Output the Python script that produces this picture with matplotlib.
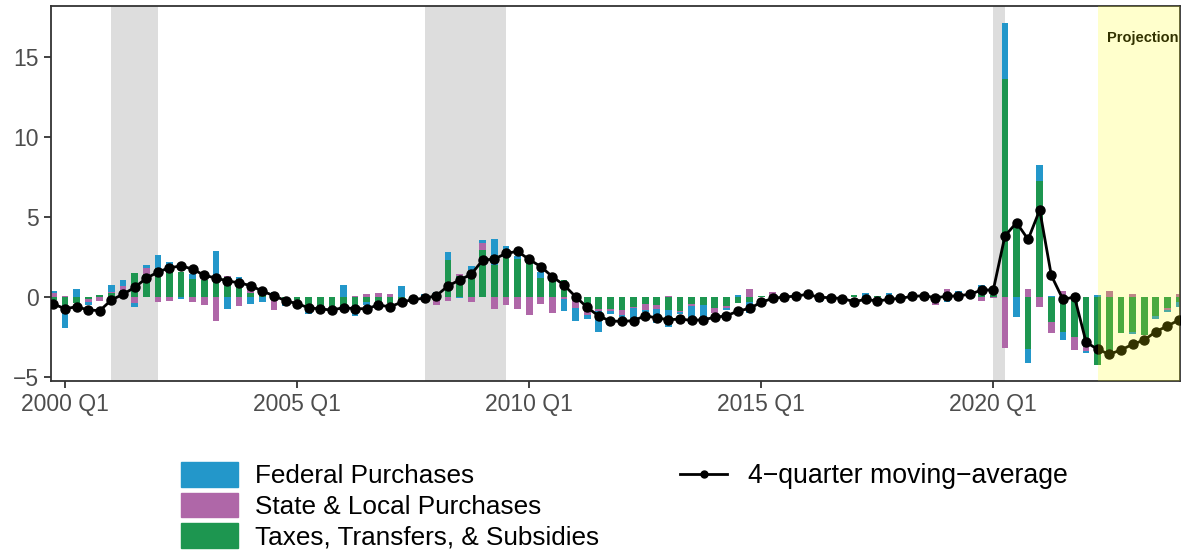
import numpy as np
import matplotlib
matplotlib.use("Agg")
import matplotlib.pyplot as plt
from matplotlib.patches import Patch
from matplotlib.lines import Line2D

plt.rcParams['font.family'] = ['Liberation Sans', 'DejaVu Sans']

# quarter labels, 1999 Q4 .. 2024 Q1
quarters = ["1999 Q4"] + [f"{y} Q{q}" for y in range(2000, 2024) for q in range(1, 5)] + ["2024 Q1"]

# contributions (percentage points)
federal = [0.15, -1.0, 0.48, -0.15, 0.0, 0.4, 0.35, -0.25, 0.17, 0.83,
           0.2, -0.12, 0.31, 0.0, 1.54, -0.77, 0.12, -0.46, -0.31, 0.1,
           -0.12, 0.0, -0.33, 0.0, 0.0, 0.73, -0.2, -0.2, 0.0, 0.0,
           0.67, 0.05, 0.13, 0.12, 0.48, -0.06, 0.25, 0.17, 1.62, 0.19,
           0.19, 0.0, 0.38, 0.0, -0.73, -0.81, -0.25, -1.31, -0.2, -0.15,
           -0.83, -0.1, -0.85, -1.04, -0.1, -1.15, -1.15, 0.0, -0.12, 0.1,
           -0.73, 0.0, 0.0, 0.0, 0.0, 0.2, -0.3, 0.0, 0.0, 0.0,
           0.25, 0.0, 0.25, 0.0, 0.2, 0.0, 0.0, -0.31, 0.35, 0.0,
           0.15, 0.0, 3.5, -1.25, -0.85, 1.0, 0.04, -0.52, 0.0, -0.12,
           0.08, 0.0, -0.04, -0.15, 0.0, -0.17, -0.1, -0.31]
state_local = [0.2, 0.05, 0.0, -0.23, -0.27, 0.1, 0.27, -0.37, 0.42, -0.31,
               -0.25, 0.0, -0.31, -0.52, -1.5, 0.08, -0.58, 0.27, 0.0, -0.83,
               0.0, 0.0, 0.0, 0.0, 0.0, 0.0, 0.06, 0.17, 0.25, 0.17,
               0.0, 0.0, 0.0, -0.55, -0.25, 0.12, -0.31, 0.46, -0.77, -0.52,
               -0.77, -1.15, -0.46, -1.0, -0.17, -0.69, -0.31, -0.1, -0.12, -0.31,
               -0.06, -0.37, -0.25, 0.06, -0.06, -0.12, 0.0, -0.35, -0.15, 0.0,
               0.48, 0.0, 0.3, 0.0, -0.06, 0.0, 0.0, 0.0, 0.0, 0.0,
               0.0, 0.0, 0.0, 0.0, 0.0, -0.1, -0.52, 0.48, 0.0, 0.0,
               -0.25, -0.1, -3.19, 0.0, 0.46, -0.63, -0.69, 0.33, -0.83, -0.25,
               0.0, 0.35, 0.0, 0.17, 0.0, 0.0, -0.1, 0.17]
taxes = [-0.2, -0.95, -0.4, -0.13, 0.08, 0.2, 0.4, 1.48, 1.4, 1.77,
         1.95, 1.56, 1.1, 1.04, 1.31, 1.2, 1.1, 0.25, 0.08, 0.2,
         -0.45, -0.2, -0.73, -0.79, -0.77, -0.69, -1.0, -0.31, -0.31, -0.37,
         -0.2, -0.1, 0.05, 0.2, 2.29, 1.31, 1.67, 2.92, 1.98, 2.98,
         2.33, 2.1, 1.19, 1.04, 1.04, 0.2, -0.83, -0.77, -0.77, -0.83,
         -0.67, -0.46, -0.52, -0.83, -0.9, -0.46, -0.52, -0.69, -0.58, -0.37,
         -0.31, 0.06, 0.0, 0.0, 0.0, 0.0, -0.05, 0.0, 0.0, 0.1,
         0.0, 0.04, 0.0, 0.0, 0.1, 0.0, 0.0, 0.0, 0.0, 0.0,
         0.55, 0.1, 13.6, 4.5, -3.27, 7.23, -1.56, -2.19, -2.5, -3.12,
         -4.27, -3.44, -2.25, -2.19, -2.4, -1.21, -0.73, -0.31]
moving_avg = [-0.46, -0.75, -0.63, -0.83, -0.87, -0.2, 0.15, 0.58, 1.15, 1.54,
              1.81, 1.92, 1.73, 1.33, 1.17, 0.98, 0.87, 0.69, 0.35, 0.06,
              -0.25, -0.44, -0.69, -0.77, -0.83, -0.69, -0.75, -0.75, -0.52, -0.63,
              -0.35, -0.17, -0.1, 0.06, 0.67, 1.04, 1.4, 2.29, 2.35, 2.71,
              2.83, 2.33, 1.88, 1.25, 0.73, 0.0, -0.67, -1.21, -1.52, -1.54,
              -1.5, -1.19, -1.33, -1.44, -1.4, -1.48, -1.44, -1.29, -1.19, -0.9,
              -0.73, -0.35, -0.1, -0.02, 0.04, 0.15, -0.04, -0.06, -0.12, -0.31,
              -0.17, -0.27, -0.17, -0.1, 0.02, 0.06, -0.06, 0.02, 0.06, 0.15,
              0.42, 0.42, 3.79, 4.63, 3.58, 5.42, 1.33, -0.17, -0.02, -2.85,
              -3.29, -3.6, -3.33, -2.98, -2.71, -2.19, -1.83, -1.46]

recessions = [("2001 Q1", "2002 Q1"), ("2007 Q4", "2009 Q3"), ("2020 Q1", "2020 Q2")]
projection_start = "2022 Q2"
tick_labels = ["2000 Q1", "2005 Q1", "2010 Q1", "2015 Q1", "2020 Q1"]

x = np.arange(len(quarters))
pos = {q: i for i, q in enumerate(quarters)}

fig = plt.figure(figsize=(11.83, 5.52), dpi=100)
ax = fig.add_axes([51 / 1183, 1 - 381 / 552, 1129 / 1183, 375 / 552])

# recession shading
for a, b in recessions:
    ax.axvspan(pos[a], pos[b], color='#DDDDDD', lw=0, zorder=0)

# stacked bars, taxes closest to zero, then state & local, then federal
series = [(taxes, '#1D9650', 'Taxes, Transfers, & Subsidies'),
          (state_local, '#AF67A8', 'State & Local Purchases'),
          (federal, '#2397CA', 'Federal Purchases')]
pos_base = np.zeros(len(x))
neg_base = np.zeros(len(x))
for vals, col, lab in series:
    v = np.array(vals)
    bottom = np.where(v >= 0, pos_base, neg_base)
    ax.bar(x, v, bottom=bottom, width=0.58, color=col, lw=0, zorder=2)
    pos_base = pos_base + np.clip(v, 0, None)
    neg_base = neg_base + np.clip(v, None, 0)

ax.plot(x, moving_avg, color='black', lw=2, marker='o', markersize=6.5, zorder=3)

ax.text(pos[projection_start] + 3.9, 16.2, 'Projection', fontsize=10.5,
        fontweight='bold', ha='center', va='center', zorder=4)

xmin, xmax = pos["2000 Q1"] - 1.21, pos["2000 Q1"] + 96.09
# projection overlay drawn on top
ax.axvspan(pos[projection_start], xmax, color='yellow', alpha=0.2, lw=0, zorder=5)

ax.set_xlim(xmin, xmax)
ax.set_ylim(-5.27, 18.17)
ax.set_xticks([pos[t] for t in tick_labels])
ax.set_xticklabels(tick_labels)
ax.set_yticks([-5, 0, 5, 10, 15])
ax.set_yticklabels(['\u22125', '0', '5', '10', '15'])
ax.tick_params(labelsize=16.5, labelcolor='#4D4D4D', color='#333333',
               length=5, width=1.3, pad=4)
for s in ax.spines.values():
    s.set_color('#333333')
    s.set_linewidth(1.3)

bar_handles = [Patch(color='#2397CA', label='Federal Purchases'),
               Patch(color='#AF67A8', label='State & Local Purchases'),
               Patch(color='#1D9650', label='Taxes, Transfers, & Subsidies')]
fig.legend(handles=bar_handles, loc='upper left',
           bbox_to_anchor=(181 / 1183, 1 - 462 / 552), frameon=False,
           fontsize=18.8, handlelength=2.18, handleheight=1.07,
           handletextpad=0.64, labelspacing=0.17, borderpad=0, borderaxespad=0)
line_handle = [Line2D([0], [0], color='black', lw=2, marker='o', markersize=5,
                      label='4\u2212quarter moving\u2212average')]
fig.legend(handles=line_handle, loc='upper left',
           bbox_to_anchor=(680 / 1183, 1 - 463 / 552), frameon=False,
           fontsize=19.2, handlelength=1.77, handletextpad=0.77,
           borderpad=0, borderaxespad=0)

fig.savefig('out.png', dpi=100)
